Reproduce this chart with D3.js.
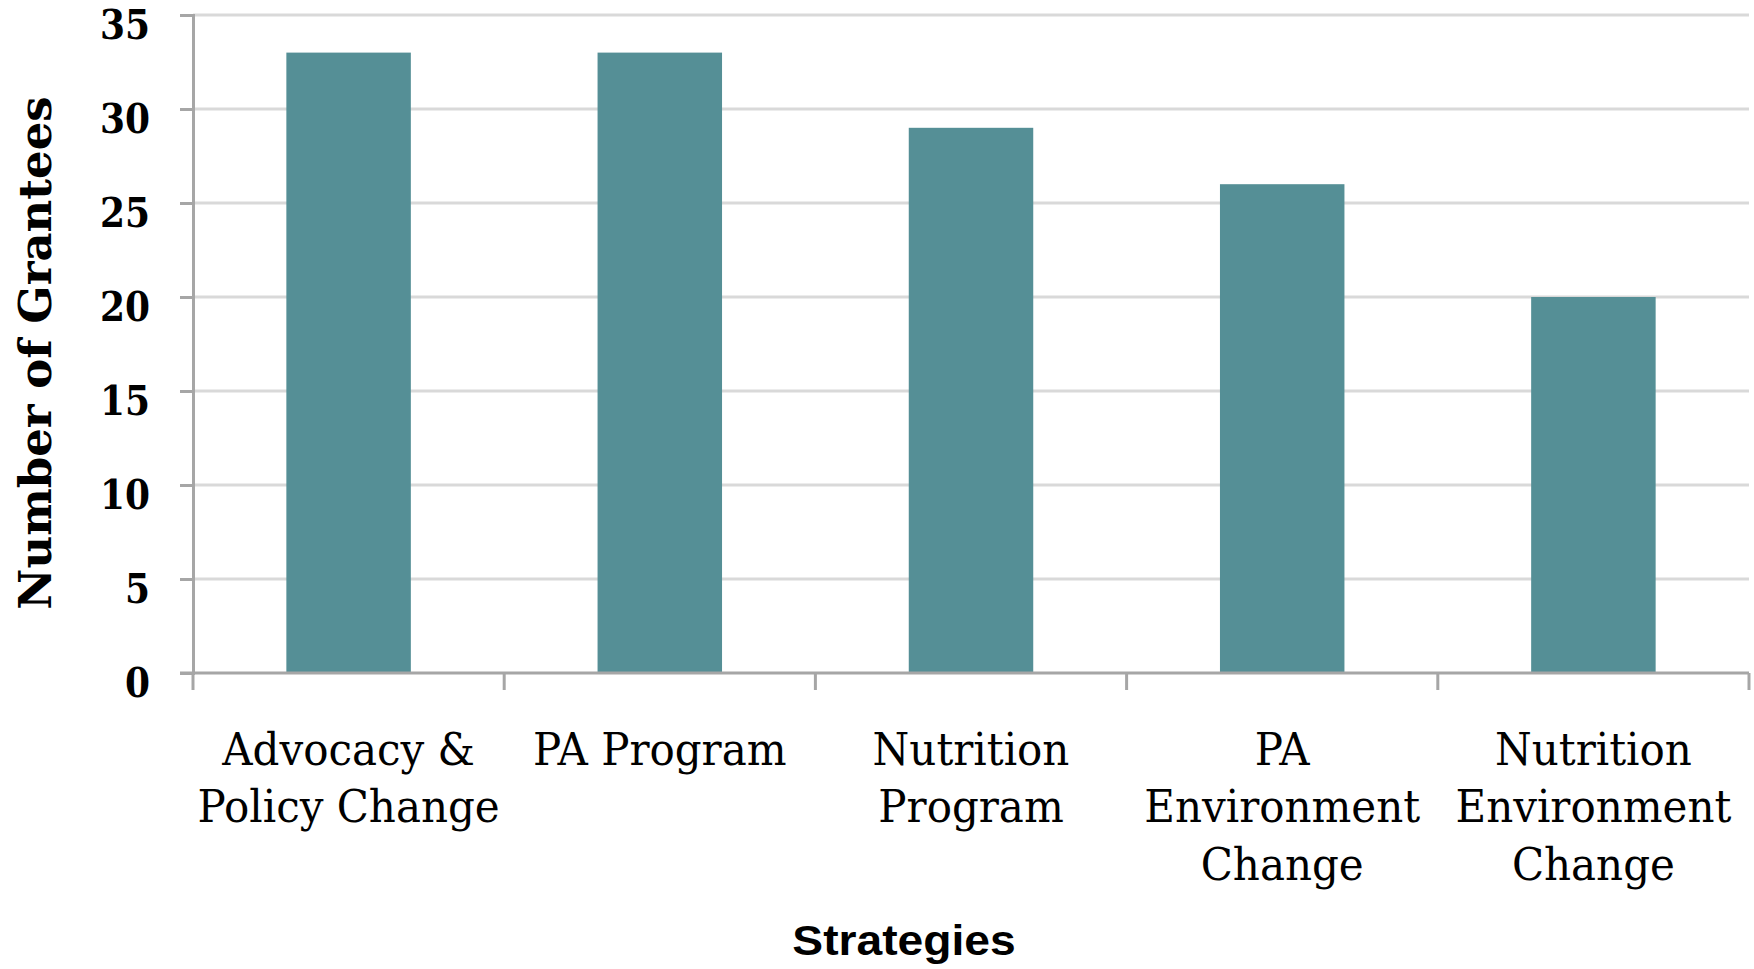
<!DOCTYPE html>
<html>
<head>
<meta charset="utf-8">
<script src="https://cdn.jsdelivr.net/npm/d3@7"></script>
<style>
  html, body { margin: 0; padding: 0; background: #fff; }
  svg { display: block; }
</style>
</head>
<body>
<svg id="chart" width="1754" height="969"></svg>
<script>
const categories = [
  "Advocacy & Policy Change",
  "PA Program",
  "Nutrition Program",
  "PA Environment Change",
  "Nutrition Environment Change"
];
const grantees = [33, 33, 29, 26, 20];
const yTicks = [0, 5, 10, 15, 20, 25, 30, 35];

const W = 1754, H = 969;
const margin = {top: 15, right: 5, bottom: 296, left: 193};
const BAR = "#558f96";
const GRID = "#d9d9d9";
const AXIS = "#a6a6a6";
const SERIF = "'DejaVu Serif', serif";

const svg = d3.select("#chart");

const x = d3.scaleBand()
  .domain(categories)
  .range([margin.left, W - margin.right])
  .paddingInner(0.6)
  .paddingOuter(0.3);

const y = d3.scaleLinear()
  .domain([0, 35])
  .range([H - margin.bottom, margin.top]);

// gridlines
svg.append("g")
  .selectAll("line")
  .data(yTicks.filter(d => d > 0))
  .join("line")
  .attr("x1", margin.left)
  .attr("x2", W - margin.right)
  .attr("y1", d => y(d))
  .attr("y2", d => y(d))
  .attr("stroke", GRID)
  .attr("stroke-width", 3);

// bars
svg.append("g")
  .selectAll("rect")
  .data(grantees)
  .join("rect")
  .attr("x", (d, i) => x(categories[i]))
  .attr("y", d => y(d))
  .attr("width", x.bandwidth())
  .attr("height", d => y(0) - y(d))
  .attr("fill", BAR);

// y axis
const yAxis = svg.append("g")
  .attr("transform", `translate(${margin.left},0)`)
  .call(d3.axisLeft(y).tickValues(yTicks).tickSize(13).tickFormat(""));
yAxis.select(".domain").attr("stroke", AXIS).attr("stroke-width", 3);
yAxis.selectAll(".tick line").attr("stroke", AXIS).attr("stroke-width", 3);

svg.append("g")
  .selectAll("text")
  .data(yTicks)
  .join("text")
  .attr("transform", d => `translate(150,${y(d) + 24}) scale(1,1.15)`)
  .attr("text-anchor", "end")
  .style("font-family", SERIF)
  .style("font-weight", "bold")
  .style("font-size", "36px")
  .attr("fill", "#000")
  .text(d => d);

// x axis, ticks at category boundaries
const x0 = x.range()[0];
const boundaries = d3.range(categories.length + 1).map(i => x0 + i * x.step());
svg.append("line")
  .attr("x1", x0 - 13).attr("x2", W - margin.right)
  .attr("y1", y(0)).attr("y2", y(0))
  .attr("stroke", AXIS).attr("stroke-width", 3);
svg.append("g")
  .selectAll("line")
  .data(boundaries)
  .join("line")
  .attr("x1", d => d).attr("x2", d => d)
  .attr("y1", y(0)).attr("y2", y(0) + 17)
  .attr("stroke", AXIS).attr("stroke-width", 3);

// category labels, wrapped to fit
const LABEL_SCALE_Y = 1.05;
const labels = svg.append("g")
  .selectAll("text")
  .data(categories)
  .join("text")
  .attr("transform", d => `translate(${x(d) + x.bandwidth() / 2},765) scale(1,${LABEL_SCALE_Y})`)
  .attr("text-anchor", "middle")
  .style("font-family", SERIF)
  .style("font-size", "42px")
  .attr("fill", "#000");

labels.each(function(d) {
  const t = d3.select(this);
  const words = d.split(" ");
  let lines = [], cur = [];
  const probe = t.append("tspan");
  words.forEach(w => {
    const test = cur.concat(w).join(" ");
    probe.text(test);
    if (cur.length && probe.node().getComputedTextLength() > 325) {
      lines.push(cur.join(" "));
      cur = [w];
    } else {
      cur.push(w);
    }
  });
  lines.push(cur.join(" "));
  probe.remove();
  t.selectAll("tspan")
    .data(lines)
    .join("tspan")
    .attr("x", 0)
    .attr("dy", (l, i) => i === 0 ? 0 : 57.5 / LABEL_SCALE_Y)
    .text(l => l);
});

// axis titles
svg.append("text")
  .attr("transform", "translate(51,353) rotate(-90)")
  .attr("text-anchor", "middle")
  .style("font-family", SERIF)
  .style("font-weight", "bold")
  .style("font-size", "45px")
  .attr("fill", "#000")
  .text("Number of Grantees");

svg.append("text")
  .attr("transform", "translate(904,955) scale(1.1,1)")
  .attr("text-anchor", "middle")
  .style("font-family", "'Liberation Sans', Arial, sans-serif")
  .style("font-weight", "bold")
  .style("font-size", "42px")
  .attr("fill", "#000")
  .text("Strategies");
</script>
</body>
</html>
